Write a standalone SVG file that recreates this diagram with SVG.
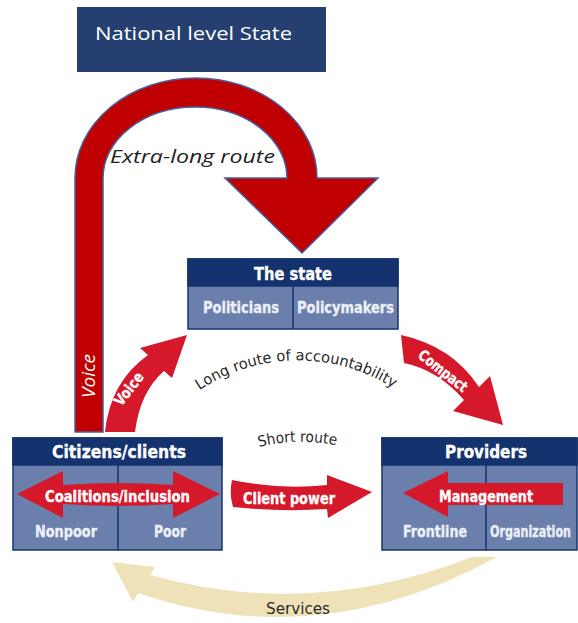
<svg xmlns="http://www.w3.org/2000/svg" width="578" height="623" viewBox="0 0 578 623">
  <style>
    .hdr { fill: #14336e; stroke: #14336e; stroke-width: 1.5; }
    .panel { fill: #6b7fad; stroke: #14336e; stroke-width: 1.5; }
    .div { stroke: #14336e; stroke-width: 1.5; }
    .cond { font-family: "Liberation Sans Narrow", "DejaVu Sans Condensed", "Liberation Sans", sans-serif; font-weight: bold; }
    .htxt { fill: #ffffff; font-size: 17px; stroke: #ffffff; stroke-width: 0.3; }
    .ptxt { fill: #eef0f7; font-size: 15px; stroke: #eef0f7; stroke-width: 0.3; }
    .atxt { fill: #ffffff; font-size: 15px; stroke: #ffffff; stroke-width: 0.3; }
    .red { fill: #d6182b; }
    .route { font-family: "Liberation Sans Narrow", "DejaVu Sans Condensed", "Liberation Sans", sans-serif; fill: #2a2a2a; font-size: 15px; }
    .calibri { font-family: "Open Sans", "Noto Sans", sans-serif; }
  </style>
  <defs>
    <path id="longArc" d="M 197 392 A 177 177 0 0 1 399 392"/>
    <path id="shortArc" d="M 259 447 Q 298 437 340 446"/>
  </defs>

  <rect width="578" height="623" fill="#ffffff"/>

  <!-- National level State -->
  <g id="national">
    <rect x="77" y="7" width="249" height="65" fill="#243f70"/>
    <text class="calibri" x="95" y="40" font-size="19" fill="#ffffff" textLength="197" lengthAdjust="spacingAndGlyphs">National level State</text>
  </g>

  <g id="connectors">
    <!-- extra-long route: voice up to the national level, then down to the state -->
    <path d="M 75 432 L 75 178 A 121 100 0 0 1 317 178 L 378 178 L 302 253 L 225 178 L 287 178 A 92 71 0 0 0 103 178 L 103 432 Z"
          fill="#c00000" stroke="#44609e" stroke-width="1.5" stroke-linejoin="miter"/>
    <text class="calibri" x="110" y="163" font-size="19" font-style="italic" fill="#222222" textLength="165" lengthAdjust="spacingAndGlyphs">Extra-long route</text>
    <text class="calibri" transform="translate(95 376) rotate(-90)" text-anchor="middle" font-size="19" font-style="italic" fill="#ffffff">Voice</text>

    <!-- voice: citizens to the state -->
    <path class="red" d="M 105 432 Q 110 382 148 355 L 140 348 L 187 335 L 172 378 L 164 371 Q 140 392 135 432 Z"/>
    <text class="cond atxt" transform="translate(129 389) rotate(-52)" text-anchor="middle" dominant-baseline="central" font-size="13" textLength="38" lengthAdjust="spacingAndGlyphs">Voice</text>

    <!-- compact: the state to providers -->
    <path class="red" d="M 401 335 Q 452 346 479 387 L 490 376 L 503 425 L 453 411 L 464 400 Q 438 370 404 363 Z"/>
    <text class="cond atxt" transform="translate(443 371) rotate(38)" text-anchor="middle" dominant-baseline="central" font-size="13" textLength="58" lengthAdjust="spacingAndGlyphs">Compact</text>

    <!-- client power: citizens to providers -->
    <path class="red" d="M 232 480 Q 280 490 327 485 L 327 475 L 372 492 L 328 518 L 327 509 Q 280 512 233 507 Q 229 494 232 480 Z"/>
    <text class="cond atxt" x="243" y="504" textLength="92" lengthAdjust="spacingAndGlyphs">Client power</text>

    <!-- services: providers back to citizens -->
    <path d="M 472 557 Q 311 620 150 575 L 155 567 L 112 562 L 133 602 L 138 593 Q 318 655 497 557 Z" fill="#efe2b8"/>
    <text class="route" x="298" y="614" text-anchor="middle" font-size="16" textLength="64" lengthAdjust="spacingAndGlyphs">Services</text>

    <!-- route labels -->
    <text class="route"><textPath href="#longArc" startOffset="3" textLength="205" lengthAdjust="spacingAndGlyphs">Long route of accountability</textPath></text>
    <text class="route"><textPath href="#shortArc" textLength="78" lengthAdjust="spacingAndGlyphs">Short route</textPath></text>
  </g>

  <!-- The state -->
  <g id="state">
    <rect class="panel" x="188" y="259" width="210" height="70"/>
    <rect class="hdr" x="188" y="259" width="210" height="27"/>
    <line class="div" x1="293" y1="286" x2="293" y2="329"/>
    <text class="cond htxt" x="293" y="280" text-anchor="middle" textLength="78" lengthAdjust="spacingAndGlyphs">The state</text>
    <text class="cond ptxt" x="203" y="313" textLength="76" lengthAdjust="spacingAndGlyphs">Politicians</text>
    <text class="cond ptxt" x="297" y="313" textLength="97" lengthAdjust="spacingAndGlyphs">Policymakers</text>
  </g>

  <!-- Citizens/clients -->
  <g id="citizens">
    <rect class="panel" x="13" y="438" width="209" height="112"/>
    <rect class="hdr" x="13" y="438" width="209" height="27"/>
    <line class="div" x1="118" y1="465" x2="118" y2="550"/>
    <text class="cond htxt" x="119" y="458" text-anchor="middle" textLength="134" lengthAdjust="spacingAndGlyphs">Citizens/clients</text>
    <path class="red" d="M 17 494 L 63 471 L 63 485 Q 118 481 173 485 L 173 471 L 220 494 L 173 518 L 173 504 Q 118 508 63 504 L 63 518 Z"/>
    <text class="cond atxt" x="45" y="502" font-size="16" textLength="145" lengthAdjust="spacingAndGlyphs">Coalitions/inclusion</text>
    <text class="cond ptxt" x="35" y="537" textLength="62" lengthAdjust="spacingAndGlyphs">Nonpoor</text>
    <text class="cond ptxt" x="154" y="537" textLength="32" lengthAdjust="spacingAndGlyphs">Poor</text>
  </g>

  <!-- Providers -->
  <g id="providers">
    <rect class="panel" x="382" y="438" width="195" height="112"/>
    <rect class="hdr" x="382" y="438" width="195" height="27"/>
    <line class="div" x1="486" y1="465" x2="486" y2="550"/>
    <text class="cond htxt" x="445" y="458" textLength="82" lengthAdjust="spacingAndGlyphs">Providers</text>
    <path class="red" d="M 403 493 L 448 471 L 448 483 L 563 483 L 563 505 L 448 505 L 448 517 Z"/>
    <text class="cond atxt" x="439" y="502" font-size="16" textLength="94" lengthAdjust="spacingAndGlyphs">Management</text>
    <text class="cond ptxt" x="403" y="537" textLength="64" lengthAdjust="spacingAndGlyphs">Frontline</text>
    <text class="cond ptxt" x="490" y="537" textLength="81" lengthAdjust="spacingAndGlyphs">Organization</text>
  </g>
</svg>
